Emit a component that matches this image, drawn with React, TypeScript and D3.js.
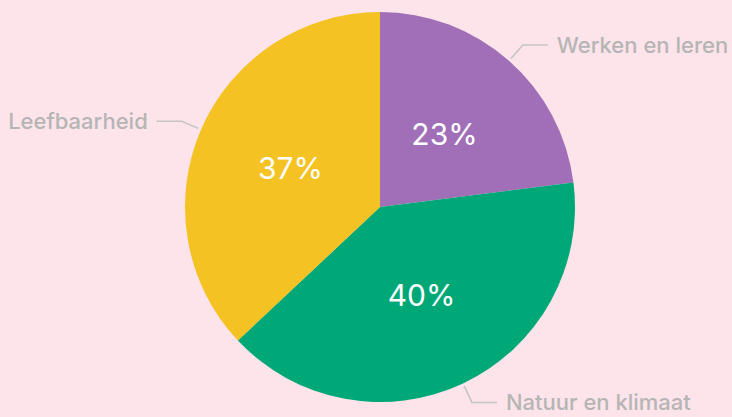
import React, { useEffect, useRef } from "react";
import * as d3 from "d3";

// slice data, clockwise from 12 o'clock
const categories = ["Werken en leren", "Natuur en klimaat", "Leefbaarheid"];
const values = [23, 40, 37];
const colors = ["#a06fb7", "#00a877", "#f5c223"];

const width = 732;
const height = 417;

export default function App() {
  const ref = useRef<SVGSVGElement>(null);

  useEffect(() => {
    document.body.style.margin = "0";
    const svg = d3.select(ref.current);
    svg.selectAll("*").remove();

    svg
      .append("rect")
      .attr("width", width)
      .attr("height", height)
      .attr("fill", "#fde4ea");

    const cx = 380;
    const cy = 207;
    const radius = 195;

    const data = categories.map((c, i) => ({ name: c, value: values[i], color: colors[i] }));

    const pie = d3
      .pie<{ name: string; value: number; color: string }>()
      .sort(null)
      .value((d) => d.value);
    const arcs = pie(data);

    const arc = d3
      .arc<d3.PieArcDatum<{ name: string; value: number; color: string }>>()
      .innerRadius(0)
      .outerRadius(radius);

    const g = svg.append("g").attr("transform", `translate(${cx},${cy})`);

    g.selectAll("path.slice")
      .data(arcs)
      .enter()
      .append("path")
      .attr("class", "slice")
      .attr("d", arc)
      .attr("fill", (d) => d.data.color);

    // percentage inside the slice
    const inner = d3
      .arc<d3.PieArcDatum<{ name: string; value: number; color: string }>>()
      .innerRadius(radius * 0.5)
      .outerRadius(radius * 0.5);

    g.selectAll("text.pct")
      .data(arcs)
      .enter()
      .append("text")
      .attr("class", "pct")
      .attr("transform", (d) => `translate(${inner.centroid(d)})`)
      .attr("text-anchor", "middle")
      .attr("dominant-baseline", "central")
      .attr("fill", "#ffffff")
      .style("font-family", "Inter, 'Noto Sans', sans-serif")
      .style("font-size", "30px")
      .text((d) => d.data.value + "%");

    // outside labels with leader lines
    const mid = (d: d3.PieArcDatum<any>) => (d.startAngle + d.endAngle) / 2;
    const pt = (a: number, r: number): [number, number] => [Math.sin(a) * r, -Math.cos(a) * r];

    arcs.forEach((d) => {
      const a = mid(d);
      const p1 = pt(a, radius + 3);
      const p2 = pt(a, radius + 21);
      const side = Math.sin(a) >= 0 ? 1 : -1;
      const p3: [number, number] = [p2[0] + side * 25, p2[1]];

      g.append("polyline")
        .attr("points", [p1, p2, p3].map((p) => p.join(",")).join(" "))
        .attr("fill", "none")
        .attr("stroke", "#c4c4c4")
        .attr("stroke-width", 1.5);

      g.append("text")
        .attr("x", p3[0] + side * 9)
        .attr("y", p3[1])
        .attr("text-anchor", side > 0 ? "start" : "end")
        .attr("dominant-baseline", "central")
        .attr("fill", "#b5b5b5")
        .style("font-family", "Inter, 'Noto Sans', sans-serif")
        .style("font-size", "22px")
        .style("font-weight", 500)
        .text(d.data.name);
    });
  }, []);

  return <svg ref={ref} width={width} height={height} style={{ display: "block" }} />;
}
